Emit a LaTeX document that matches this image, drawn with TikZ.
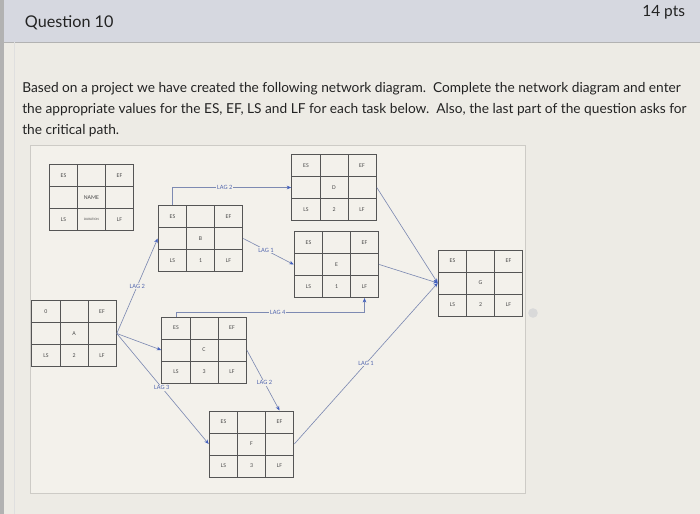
\documentclass[tikz,border=0pt]{standalone}
\usepackage{fontspec}
\setmainfont{Lato}
\newfontfamily\boxfont{Carlito}
\usetikzlibrary{arrows.meta,matrix,positioning}

\definecolor{headbg}{RGB}{214,216,224}
\definecolor{pagebg}{RGB}{237,235,229}
\definecolor{framebg}{RGB}{243,241,235}
\definecolor{framegray}{RGB}{205,203,198}
\definecolor{boxgray}{RGB}{85,85,85}
\definecolor{celltext}{RGB}{75,75,75}
\definecolor{lagline}{RGB}{125,138,178}
\definecolor{lagtip}{RGB}{65,95,190}
\definecolor{lagtext}{RGB}{85,105,175}
\definecolor{headtext}{RGB}{35,35,35}

\begin{document}
\begin{tikzpicture}[
    x=0.025cm, y=-0.025cm,
    >={Stealth[length=3.2pt,width=2.6pt,color=lagtip]},
    task/.style={matrix of nodes, nodes in empty cells, inner sep=0pt,
      column sep=-0.7pt, row sep=-0.7pt,
      nodes={draw=boxgray, line width=0.7pt, anchor=center, minimum width=0.7cm, minimum height=0.55cm,
        inner sep=0pt, font=\boxfont\fontsize{4.2}{5}\selectfont, text=celltext}},
    lag/.style={draw=lagline, line width=0.45pt, ->},
    lagtext/.style={font=\boxfont\fontsize{4.6}{5}\selectfont, text=lagtext, fill=framebg, inner sep=0.6pt},
    line/.style={anchor=base west, font=\fontsize{9.75}{12}\selectfont, text=headtext, inner sep=0pt}
  ]
    \useasboundingbox (0,0) rectangle (700,514);
    % page
    \fill[pagebg] (0,0) rectangle (700,514);
    \fill[headbg] (0,0) rectangle (700,42);
    \draw[gray!60] (4,42) -- (700,42);
    \fill[gray!60] (0,0) rectangle (4,514);
    \draw[gray!25] (14,42) -- (14,514);
    \draw[framegray, fill=framebg] (30,145) rectangle (525,493);

    \node[anchor=base west, font=\fontsize{11.5}{13}\selectfont, text=headtext] (qtitle) at (20,27) {Question 10};
    \node[anchor=base east, font=\fontsize{11}{13}\selectfont, text=headtext] (pts) at (690,16) {14 pts};
    \node[line] (line1) at (22,92) {Based on a project we have created the following network diagram.\ \ Complete the network diagram and enter};
    \node[line] (line2) at (22,113) {the appropriate values for the ES, EF, LS and LF for each task below.\ \ Also, the last part of the question asks for};
    \node[line] (line3) at (22,134) {the critical path.};

    % task boxes
    \matrix[task] (legend) at (91.5,197.5) {ES & & EF\\ & NAME & \\ LS & |[font=\boxfont\fontsize{2.4}{2.8}\selectfont]| DURATION & LF\\};
    \matrix[task] (A) at (74,333.5) {0 & & EF\\ & A & \\ LS & 2 & LF\\};
    \matrix[task] (B) at (200.5,238.5) {ES & & EF\\ & B & \\ LS & 1 & LF\\};
    \matrix[task] (C) at (204,350) {ES & & EF\\ & C & \\ LS & 3 & LF\\};
    \matrix[task] (D) at (334,187.5) {ES & & EF\\ & D & \\ LS & 2 & LF\\};
    \matrix[task] (E) at (336.5,264.5) {ES & & EF\\ & E & \\ LS & 1 & LF\\};
    \matrix[task] (F) at (251.5,444) {ES & & EF\\ & F & \\ LS & 3 & LF\\};
    \matrix[task] (G) at (480.5,283) {ES & & EF\\ & G & \\ LS & 2 & LF\\};

    % lags
    \draw[lag] (A.east) -- node[lagtext] {LAG 2} (B.west);
    \draw[lag] (A.east) -- (C.west);
    \draw[lag] (A.east) -- node[lagtext, pos=0.49] {LAG 3} (F.west);
    \draw[lag] (B-1-1.north) |- node[lagtext, pos=0.72] {LAG 2} (D.west);
    \draw[lag] (B.east) -- node[lagtext, pos=0.45] {LAG 1} (E.west);
    \draw[lag] (C-1-1.north) -- ++(0,-4) -| node[lagtext, pos=0.27] {LAG 4} (E-3-3.south);
    \draw[lag] (C.east) -- node[lagtext, pos=0.54] {LAG 2} (F-1-3.north);
    \draw[lag] (D.east) -- (G.west);
    \draw[lag] (E.east) -- (G.west);
    \draw[lag] (F.east) -- node[lagtext] {LAG 1} (G.west);

    \fill[gray!30] (533,313) circle (0.12cm);
  \end{tikzpicture}
\end{document}
